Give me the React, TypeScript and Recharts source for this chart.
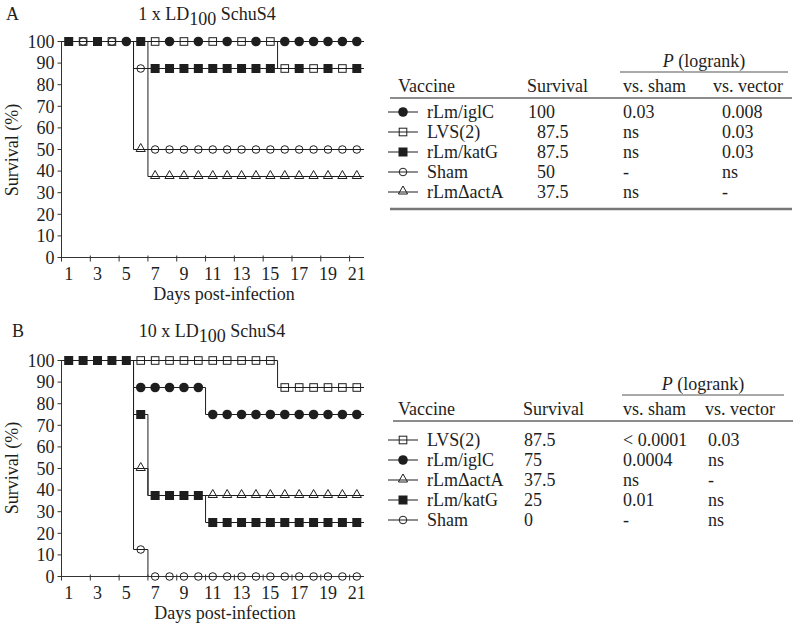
import { ComposedChart, Line, Scatter, XAxis, YAxis } from 'recharts';

const FONT = '"Liberation Serif", "Times New Roman", serif';
const INK = '#1e1e1e';
const AXIS = '#333';

const dayTicks = [1, 3, 5, 7, 9, 11, 13, 15, 17, 19, 21];
const survivalTicks = [0, 10, 20, 30, 40, 50, 60, 70, 80, 90, 100];

// Panel A (1 x LD100) - Kaplan-Meier steps as [day, % surviving]
const aIglcSteps = [[0.5, 100], [21.5, 100]];
const aLvsSteps = [[0.5, 100], [15.5, 87.5], [21.5, 87.5]];
const aKatgSteps = [[0.5, 100], [6.5, 87.5], [21.5, 87.5]];
const aShamSteps = [[0.5, 100], [5.5, 87.5], [6.5, 50], [21.5, 50]];
const aActaSteps = [[0.5, 100], [5.5, 50], [6.5, 37.5], [21.5, 37.5]];

// days where a symbol is visible (others are hidden under overlapping symbols)
const aIglcMarks = [5, 8, 10, 12, 14, 16, 17, 18, 19, 20, 21];
const aLvsMarks = [2, 4, 7, 9, 11, 13, 15, 16, 18, 20];
const aKatgMarks = [1, 3, 6, 7, 8, 9, 10, 11, 12, 13, 14, 15, 17, 19, 21];
const aShamMarks = [2, 4, 6, 7, 8, 9, 10, 11, 12, 13, 14, 15, 16, 17, 18, 19, 20, 21];
const aActaMarks = [6, 7, 8, 9, 10, 11, 12, 13, 14, 15, 16, 17, 18, 19, 20, 21];

// Panel B (10 x LD100)
const bLvsSteps = [[0.5, 100], [15.5, 87.5], [21.5, 87.5]];
const bIglcSteps = [[0.5, 100], [5.5, 87.5], [10.5, 75], [21.5, 75]];
const bActaSteps = [[0.5, 100], [5.5, 50], [6.5, 37.5], [21.5, 37.5]];
const bKatgSteps = [[0.5, 100], [5.5, 75], [6.5, 37.5], [10.5, 25], [21.5, 25]];
const bShamSteps = [[0.5, 100], [5.5, 12.5], [6.5, 0], [21.5, 0]];

const bLvsMarks = [6, 7, 8, 9, 10, 11, 12, 13, 14, 15, 16, 17, 18, 19, 20, 21];
const bIglcMarks = [6, 7, 8, 9, 10, 11, 12, 13, 14, 15, 16, 17, 18, 19, 20, 21];
const bActaMarks = [6, 11, 12, 13, 14, 15, 16, 17, 18, 19, 20, 21];
const bKatgMarks = [1, 2, 3, 4, 5, 6, 7, 8, 9, 10, 11, 12, 13, 14, 15, 16, 17, 18, 19, 20, 21];
const bShamMarks = [6, 7, 8, 9, 10, 11, 12, 13, 14, 15, 16, 17, 18, 19, 20, 21];

// Tables
const tableAVaccines = ['rLm/iglC', 'LVS(2)', 'rLm/katG', 'Sham', 'rLm\u0394actA'];
const tableASymbols = ['filledCircle', 'openSquare', 'filledSquare', 'openCircle', 'triangle'];
const tableASurvival = ['100', '87.5', '87.5', '50', '37.5'];
const tableAVsSham = ['0.03', 'ns', 'ns', '-', 'ns'];
const tableAVsVector = ['0.008', '0.03', '0.03', 'ns', '-'];

const tableBVaccines = ['LVS(2)', 'rLm/iglC', 'rLm\u0394actA', 'rLm/katG', 'Sham'];
const tableBSymbols = ['openSquare', 'filledCircle', 'triangle', 'filledSquare', 'openCircle'];
const tableBSurvival = ['87.5', '75', '37.5', '25', '0'];
const tableBVsSham = ['< 0.0001', '0.0004', 'ns', '0.01', '-'];
const tableBVsVector = ['0.03', 'ns', '-', 'ns', 'ns'];

// plot area geometry (same for both panels)
const PLOT_LEFT = 61.5;
const PLOT_RIGHT = 364;
const HALF_DAY = (PLOT_RIGHT - PLOT_LEFT) / 21 / 2;

type Step = number[];

const valueAt = (steps: Step[], day: number) => {
  let v = steps[0][1];
  steps.forEach(([t, s]) => {
    if (t <= day) v = s;
  });
  return v;
};

function Symbol({ kind, cx, cy }: { kind: string; cx: number; cy: number }) {
  if (cx == null || cy == null) return null;
  switch (kind) {
    case 'filledCircle':
      return <circle cx={cx} cy={cy} r={4.8} fill={INK} />;
    case 'filledSquare':
      return <rect x={cx - 4.5} y={cy - 4.5} width={9} height={9} fill={INK} />;
    case 'openSquare':
      return <rect x={cx - 3.8} y={cy - 3.8} width={7.6} height={7.6} fill="none" stroke={INK} strokeWidth={1} />;
    case 'openCircle':
      return <circle cx={cx} cy={cy} r={3.8} fill="none" stroke={INK} strokeWidth={1} />;
    case 'triangle':
      return (
        <polygon
          points={`${cx},${cy - 6} ${cx - 4.6},${cy + 2} ${cx + 4.6},${cy + 2}`}
          fill="none"
          stroke={INK}
          strokeWidth={1}
        />
      );
    default:
      return null;
  }
}

function DayTick(props: any) {
  const { x, y, payload } = props;
  return (
    <g>
      <line x1={x - HALF_DAY} x2={x - HALF_DAY} y1={y - 2} y2={y + 4} stroke={AXIS} />
      <text x={x} y={y + 22} textAnchor="middle" fontSize={18} fontFamily={FONT} fill={INK}>
        {payload.value}
      </text>
    </g>
  );
}

interface Series {
  key: string;
  kind: string;
  steps: Step[];
  marks: number[];
}

function SurvivalPanel({ series }: { series: Series[] }) {
  return (
    <ComposedChart width={380} height={300} margin={{ top: 41.5, right: 380 - PLOT_RIGHT, bottom: 2.5, left: 1.5 }}>
      <XAxis
        type="number"
        dataKey="x"
        domain={[0.5, 21.5]}
        ticks={dayTicks}
        interval={0}
        height={40}
        tickSize={0}
        tickMargin={0}
        tickLine={false}
        stroke={AXIS}
        tick={(p: any) => <DayTick {...p} />}
      />
      <YAxis
        type="number"
        dataKey="y"
        domain={[0, 100]}
        ticks={survivalTicks}
        interval={0}
        width={60}
        tickSize={4}
        tickMargin={3}
        stroke={AXIS}
        tick={{ fill: INK, fontSize: 18, fontFamily: FONT }}
      />
      {series.map((s) => (
        <Line
          key={`line-${s.key}`}
          data={s.steps.map(([x, y]) => ({ x, y }))}
          dataKey="y"
          type="stepAfter"
          stroke={INK}
          strokeWidth={1}
          dot={false}
          activeDot={false}
          isAnimationActive={false}
        />
      ))}
      {series.map((s) => (
        <Scatter
          key={`marks-${s.key}`}
          data={s.marks.map((d) => ({ x: d, y: valueAt(s.steps, d) }))}
          shape={(p: any) => <Symbol kind={s.kind} cx={p.cx} cy={p.cy} />}
          isAnimationActive={false}
        />
      ))}
    </ComposedChart>
  );
}

const panelASeries: Series[] = [
  { key: 'iglc', kind: 'filledCircle', steps: aIglcSteps, marks: aIglcMarks },
  { key: 'acta', kind: 'triangle', steps: aActaSteps, marks: aActaMarks },
  { key: 'sham', kind: 'openCircle', steps: aShamSteps, marks: aShamMarks },
  { key: 'lvs', kind: 'openSquare', steps: aLvsSteps, marks: aLvsMarks },
  { key: 'katg', kind: 'filledSquare', steps: aKatgSteps, marks: aKatgMarks },
];

const panelBSeries: Series[] = [
  { key: 'lvs', kind: 'openSquare', steps: bLvsSteps, marks: bLvsMarks },
  { key: 'iglc', kind: 'filledCircle', steps: bIglcSteps, marks: bIglcMarks },
  { key: 'acta', kind: 'triangle', steps: bActaSteps, marks: bActaMarks },
  { key: 'sham', kind: 'openCircle', steps: bShamSteps, marks: bShamMarks },
  { key: 'katg', kind: 'filledSquare', steps: bKatgSteps, marks: bKatgMarks },
];

interface TableProps {
  headerY: number;
  firstRowY: number;
  vaccines: string[];
  symbols: string[];
  survival: string[];
  vsSham: string[];
  vsVector: string[];
  cols: { survival: number; sham: number; vector: number; vectorHead: number; ruleLeft: number; ruleRight: number; pLeft: number; pRight: number };
  decimalAlign: boolean;
  bottomRule: boolean;
}

function VaccineTable(t: TableProps) {
  const c = t.cols;
  const txt = { fontSize: 18, fontFamily: FONT, fill: INK };
  const rowY = (i: number) => t.firstRowY + i * 20;
  return (
    <g>
      <text x={(c.pLeft + c.pRight) / 2} y={t.headerY - 25 + 6} textAnchor="middle" {...txt}>
        <tspan fontStyle="italic">P</tspan> (logrank)
      </text>
      <line x1={c.pLeft} x2={c.pRight} y1={t.headerY - 14} y2={t.headerY - 14} stroke="#555" strokeWidth={1.2} />
      <text x={398} y={t.headerY + 6} {...txt}>Vaccine</text>
      <text x={c.survival} y={t.headerY + 6} {...txt}>Survival</text>
      <text x={c.sham} y={t.headerY + 6} {...txt}>vs. sham</text>
      <text x={c.vectorHead} y={t.headerY + 6} {...txt}>vs. vector</text>
      <line x1={c.ruleLeft} x2={c.ruleRight} y1={t.headerY + 12} y2={t.headerY + 12} stroke="#666" strokeWidth={1.5} />
      {t.vaccines.map((v, i) => {
        const y = rowY(i);
        const [intPart, frac] = t.survival[i].split('.');
        return (
          <g key={v}>
            <line x1={388} x2={418} y1={y} y2={y} stroke={INK} strokeWidth={1} />
            <Symbol kind={t.symbols[i]} cx={403} cy={y} />
            <text x={427} y={y + 6} {...txt}>{v}</text>
            {t.decimalAlign ? (
              <>
                <text x={c.survival + 28} y={y + 6} textAnchor="end" {...txt}>{intPart}</text>
                {frac && <text x={c.survival + 28} y={y + 6} {...txt}>.{frac}</text>}
              </>
            ) : (
              <text x={c.survival + 1} y={y + 6} {...txt}>{t.survival[i]}</text>
            )}
            <text x={c.sham} y={y + 6} {...txt}>{t.vsSham[i]}</text>
            <text x={c.vector} y={y + 6} {...txt}>{t.vsVector[i]}</text>
          </g>
        );
      })}
      {t.bottomRule && (
        <line
          x1={c.ruleLeft}
          x2={c.ruleRight}
          y1={rowY(t.vaccines.length - 1) + 17}
          y2={rowY(t.vaccines.length - 1) + 17}
          stroke="#777"
          strokeWidth={2.5}
        />
      )}
    </g>
  );
}

function PanelTitle({ letter, letterX, dose, baseline, centerX }: { letter: string; letterX: number; dose: string; baseline: number; centerX: number }) {
  const txt = { fontSize: 18, fontFamily: FONT, fill: INK };
  return (
    <g>
      <text x={letterX} y={baseline} {...txt}>{letter}</text>
      <text x={centerX} y={baseline} textAnchor="middle" {...txt}>
        {dose} x LD<tspan dy={5}>100</tspan>
        <tspan dy={-5}> SchuS4</tspan>
      </text>
    </g>
  );
}

export default function App() {
  const txt = { fontSize: 18, fontFamily: FONT, fill: INK };
  return (
    <div style={{ position: 'relative', width: 800, height: 628, background: '#fff', overflow: 'hidden' }}>
      <style>{'body { margin: 0; }'}</style>
      <div style={{ position: 'absolute', left: 0, top: 0 }}>
        <SurvivalPanel series={panelASeries} />
      </div>
      <div style={{ position: 'absolute', left: 0, top: 318.5 }}>
        <SurvivalPanel series={panelBSeries} />
      </div>
      <svg width={800} height={628} style={{ position: 'absolute', left: 0, top: 0, pointerEvents: 'none' }}>
        <PanelTitle letter="A" letterX={6} dose="1" baseline={20} centerX={207} />
        <PanelTitle letter="B" letterX={12} dose="10" baseline={337} centerX={212} />

        <text transform="translate(18,150) rotate(-90)" textAnchor="middle" {...txt}>Survival (%)</text>
        <text transform="translate(18,468) rotate(-90)" textAnchor="middle" {...txt}>Survival (%)</text>
        <text x={224} y={300} textAnchor="middle" {...txt}>Days post-infection</text>
        <text x={225} y={619} textAnchor="middle" {...txt}>Days post-infection</text>

        <VaccineTable
          headerY={86}
          firstRowY={112}
          vaccines={tableAVaccines}
          symbols={tableASymbols}
          survival={tableASurvival}
          vsSham={tableAVsSham}
          vsVector={tableAVsVector}
          cols={{ survival: 527, sham: 623, vector: 722, vectorHead: 713, ruleLeft: 390, ruleRight: 792, pLeft: 620, pRight: 788 }}
          decimalAlign
          bottomRule
        />
        <VaccineTable
          headerY={409}
          firstRowY={440}
          vaccines={tableBVaccines}
          symbols={tableBSymbols}
          survival={tableBSurvival}
          vsSham={tableBVsSham}
          vsVector={tableBVsVector}
          cols={{ survival: 523, sham: 623, vector: 708, vectorHead: 705, ruleLeft: 393, ruleRight: 793, pLeft: 622, pRight: 784 }}
          decimalAlign={false}
          bottomRule={false}
        />
      </svg>
    </div>
  );
}
